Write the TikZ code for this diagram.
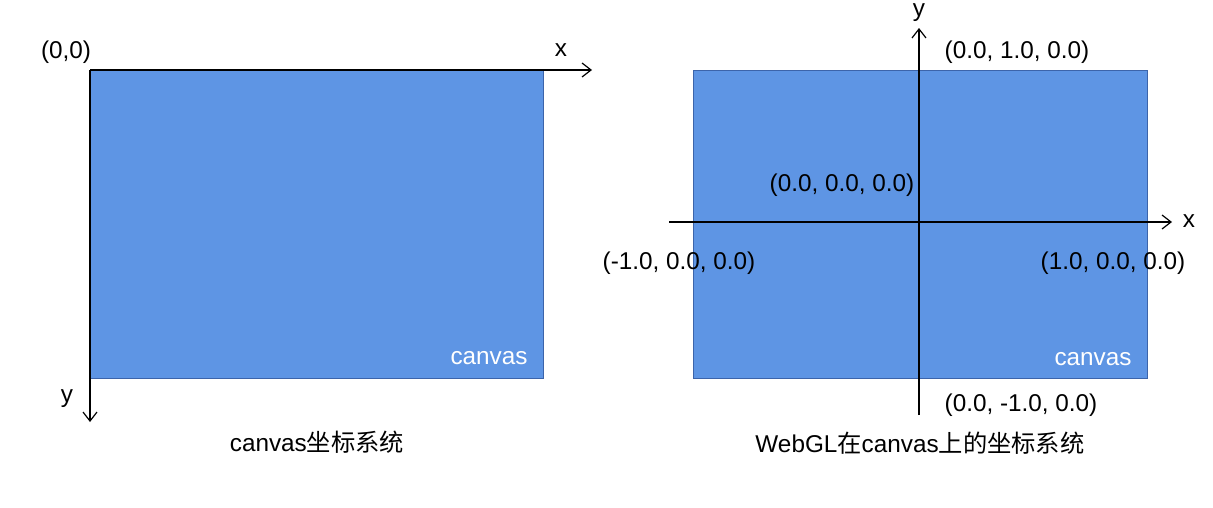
\documentclass[tikz,border=0pt]{standalone}
\usepackage{fontspec}
\setmainfont{Liberation Sans}
\newfontfamily\cjk{Noto Sans CJK SC}
\usetikzlibrary{arrows.meta}
\definecolor{canvasblue}{RGB}{94,149,228}
\definecolor{canvasedge}{RGB}{60,100,170}
\tikzset{
  canvasbox/.style={fill=canvasblue, draw=canvasedge, line width=0.8pt},
  axis/.style={line width=1.2pt, -{Straight Barb[length=9pt,width=14pt,line width=1.2pt]}},
  lbl/.style={font=\fontsize{24.3}{28}\selectfont, inner sep=0pt, text=black},
  wlbl/.style={lbl, text=white},
}
\begin{document}
\begin{tikzpicture}[x=1pt,y=-1pt]
\useasboundingbox (0,0) rectangle (1213,507);
% left canvas
\node[canvasbox, minimum width=453pt, minimum height=308pt, anchor=north west, inner sep=0pt] (c1) at (90,70) {};
\coordinate (o1) at (90,70);
\coordinate (x1) at (592,70);
\coordinate (y1) at (90,422);
\draw[axis] (o1) -- (x1);
\draw[axis] (o1) -- (y1);
\node[lbl] (l00) at (66,52) {(0,0)};
\node[lbl] (lx1) at (561,50) {x};
\node[lbl] (ly1) at (67,399) {y};
\node[wlbl] (cv1) at (489,358) {canvas};
\node[lbl] (t1) at (317,442) {canvas{\cjk 坐标系统}};
% right canvas
\node[canvasbox, minimum width=454pt, minimum height=308pt, anchor=north west, inner sep=0pt] (c2) at (693,70) {};
\coordinate (xs) at (669,222);
\coordinate (xe) at (1172,222);
\coordinate (ys) at (919,415);
\coordinate (ye) at (919,28);
\draw[axis] (xs) -- (xe);
\draw[axis] (ys) -- (ye);
\node[lbl, anchor=north] (ly2) at (919,3) {y};
\node[lbl] (lx2) at (1189,221) {x};
\node[lbl] (p010) at (1017,52) {(0.0, 1.0, 0.0)};
\node[lbl] (p000) at (842,185) {(0.0, 0.0, 0.0)};
\node[lbl] (pm100) at (679,263) {(-1.0, 0.0, 0.0)};
\node[lbl] (p100) at (1113,263) {(1.0, 0.0, 0.0)};
\node[wlbl] (cv2) at (1093,359) {canvas};
\node[lbl] (p0m10) at (1021,405) {(0.0, -1.0, 0.0)};
\node[lbl] (t2) at (920,443) {WebGL{\cjk 在}canvas{\cjk 上的坐标系统}};
\end{tikzpicture}
\end{document}
